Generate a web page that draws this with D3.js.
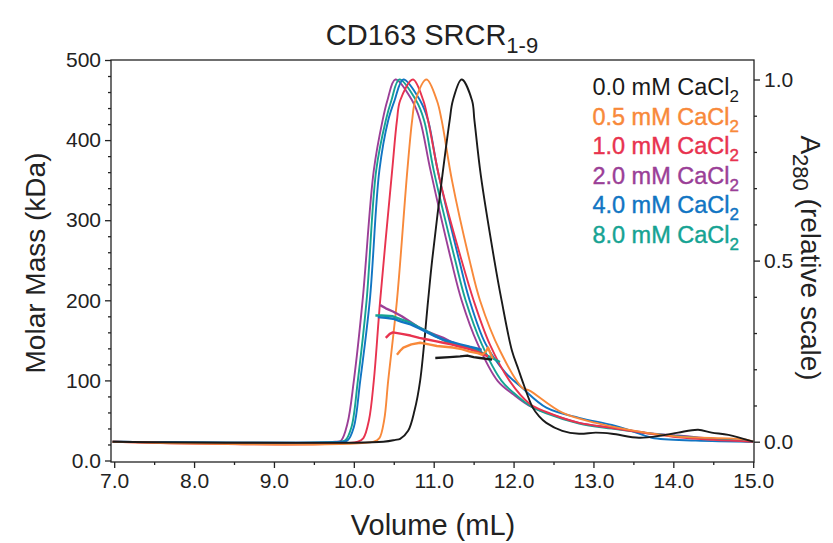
<!DOCTYPE html>
<html>
<head>
<meta charset="utf-8">
<script src="https://cdn.jsdelivr.net/npm/d3@7"></script>
<style>
body{margin:0;background:#fff}
text{font-family:"Liberation Sans",Arial,sans-serif}
</style>
</head>
<body>
<div class="chart"></div>
<script>
// A280 traces, [volume mL, relative absorbance]
const a280_0mM = [[6.98,0],[10.37,0],[10.52,0.005],[10.58,0.008],[10.68,0.03],[10.76,0.086],[10.83,0.168],[10.93,0.39],[10.98,0.5],[11.1,0.72],[11.2,0.887],[11.24,0.942],[11.35,1.0],[11.48,0.942],[11.51,0.887],[11.59,0.735],[11.76,0.5],[11.85,0.39],[11.98,0.251],[12.06,0.2],[12.11,0.168],[12.24,0.094],[12.32,0.07],[12.41,0.052],[12.61,0.03],[12.82,0.022],[13.03,0.025],[13.23,0.022],[13.57,0.011],[13.85,0.017],[14.06,0.025],[14.31,0.033],[14.48,0.025],[14.69,0.019],[15.0,0]]
const a280_05mM = [[6.98,0],[10.25,0],[10.32,0.01],[10.38,0.06],[10.43,0.168],[10.54,0.39],[10.67,0.749],[10.73,0.887],[10.77,0.942],[10.91,1.0],[11.04,0.942],[11.1,0.887],[11.23,0.72],[11.45,0.5],[11.58,0.39],[11.83,0.251],[12.11,0.149],[12.2,0.141],[12.61,0.08],[13.03,0.052],[13.65,0.025],[14.06,0.014],[14.9,0.006],[15.0,0]]
const a280_1mM = [[6.98,0],[10.05,0],[10.12,0.01],[10.19,0.06],[10.25,0.168],[10.33,0.39],[10.48,0.749],[10.54,0.887],[10.58,0.942],[10.74,1.0],[10.87,0.942],[10.93,0.887],[11.08,0.72],[11.35,0.5],[11.5,0.39],[11.7,0.27],[11.95,0.168],[12.2,0.105],[12.41,0.082],[12.82,0.052],[13.23,0.038],[13.65,0.024],[14.06,0.012],[14.5,0.005],[15.0,0]]
const a280_2mM = [[6.98,0],[9.77,0],[9.84,0.003],[9.92,0.05],[10.0,0.168],[10.11,0.39],[10.25,0.749],[10.36,0.887],[10.42,0.942],[10.52,1.0],[10.73,0.942],[10.83,0.887],[10.96,0.749],[11.22,0.5],[11.35,0.39],[11.55,0.27],[11.8,0.168],[12.0,0.13],[12.2,0.099],[12.41,0.08],[12.82,0.052],[13.23,0.039],[13.65,0.025],[14.06,0.017],[14.5,0.008],[15.0,0]]
const a280_4mM = [[6.98,0],[9.86,0],[9.92,0.003],[10.0,0.04],[10.08,0.168],[10.2,0.39],[10.32,0.749],[10.43,0.887],[10.51,0.942],[10.62,1.0],[10.83,0.942],[10.93,0.887],[11.05,0.749],[11.32,0.5],[11.45,0.39],[11.65,0.27],[11.9,0.19],[12.1,0.15],[12.41,0.094],[12.82,0.066],[13.23,0.046],[13.5,0.028],[13.73,0.011],[14.28,0.003],[15.0,0]]
const a280_8mM = [[6.98,0],[9.82,0],[9.89,0.003],[9.97,0.04],[10.05,0.168],[10.16,0.39],[10.28,0.749],[10.4,0.887],[10.47,0.942],[10.57,1.0],[10.78,0.942],[10.88,0.887],[11.0,0.749],[11.27,0.5],[11.4,0.39],[11.6,0.27],[11.85,0.168],[12.0,0.135],[12.2,0.1],[12.41,0.078],[12.82,0.05],[13.23,0.036],[13.65,0.024],[14.06,0.015],[14.5,0.007],[15.0,0]]

// molar mass traces, [volume mL, kDa]
const mass_0mM = [[11.02,128],[11.2,129],[11.33,130],[11.42,131],[11.5,129],[11.58,128],[11.73,126]]
const mass_05mM = [[10.54,132],[10.58,137],[10.62,141],[10.72,145],[10.83,147],[10.94,145],[11.04,143],[11.14,142],[11.24,141],[11.35,139],[11.45,136],[11.55,134],[11.61,132],[11.66,137],[11.68,141],[11.71,134],[11.74,127]]
const mass_1mM = [[10.4,153],[10.45,158],[10.49,160],[10.6,158],[10.71,156],[10.82,153],[10.92,151],[11.02,149],[11.12,147],[11.22,145],[11.33,142],[11.45,139],[11.54,136],[11.68,130]]
const mass_2mM = [[10.33,194],[10.4,190],[10.49,186],[10.6,180],[10.71,173],[10.8,167],[10.92,161],[11.02,157],[11.12,153],[11.22,148],[11.33,143],[11.42,142],[11.48,140],[11.54,138]]
const mass_4mM = [[10.3,179],[10.4,178],[10.49,177],[10.6,173],[10.71,170],[10.82,165],[10.92,160],[11.02,155],[11.12,151],[11.22,148],[11.33,145],[11.45,142],[11.54,140],[11.6,138]]
const mass_8mM = [[10.27,181],[10.35,181],[10.49,180],[10.6,176],[10.71,172],[10.82,166],[10.92,161],[11.05,154],[11.17,148],[11.3,144],[11.45,140],[11.54,138],[11.65,132],[11.75,127],[11.83,123]]

const concLabels = ["0.0","0.5","1.0","2.0","4.0","8.0"]
const colours = ["#1a1a1a","#f8893a","#e8334f","#9b3f97","#1175c3","#16a393"]
const xTicks = [7,8,9,10,11,12,13,14,15]
const massTicks = [0,100,200,300,400,500]
const absTicks = [0,0.5,1]

const absSeries = [a280_0mM,a280_05mM,a280_1mM,a280_2mM,a280_4mM,a280_8mM]
const massSeries = [mass_0mM,mass_05mM,mass_1mM,mass_2mM,mass_4mM,mass_8mM]

const svg = d3.select(".chart").append("svg").attr("width",833).attr("height",543)
const box = {left:111,right:754,top:60,bottom:462}

const x = d3.scaleLinear().domain([6.96,15.01]).range([box.left,box.right])
const yMass = d3.scaleLinear().domain([0,500]).range([460.5,60])
const yAbs = d3.scaleLinear().domain([0,1]).range([441.7,79.5])

// draw order so black ends on top
const order = [3,5,4,2,1,0]

const absLine = d3.line().x(d=>x(d[0])).y(d=>yAbs(d[1])).curve(d3.curveCatmullRom.alpha(0.5))
const massLine = d3.line().x(d=>x(d[0])).y(d=>yMass(d[1]))

const plot = svg.append("g")
order.forEach(i => {
  plot.append("path").attr("d",absLine(absSeries[i])).attr("fill","none")
      .attr("stroke",colours[i]).attr("stroke-width",1.9).attr("stroke-linejoin","round")
})
order.forEach(i => {
  plot.append("path").attr("d",massLine(massSeries[i])).attr("fill","none")
      .attr("stroke",colours[i]).attr("stroke-width",2.4).attr("stroke-linejoin","round")
})

// frame
svg.append("rect").attr("x",box.left).attr("y",box.top).attr("width",box.right-box.left)
   .attr("height",box.bottom-box.top).attr("fill","none").attr("stroke","#222").attr("stroke-width",1.3)

function styleAxis(g){
  g.select(".domain").remove()
  g.selectAll(".tick line").attr("stroke","#222").attr("stroke-width",1.3)
  g.selectAll("text").attr("font-size",21).attr("fill","#222").attr("font-family","Liberation Sans, Arial, sans-serif")
}

// bottom axis
svg.append("g").attr("transform",`translate(0,${box.bottom})`)
   .call(d3.axisBottom(x).tickValues(d3.range(7.5,15,1)).tickSize(3).tickFormat("")).call(styleAxis)
svg.append("g").attr("transform",`translate(0,${box.bottom})`)
   .call(d3.axisBottom(x).tickValues(xTicks).tickSize(6).tickPadding(5).tickFormat(d3.format(".1f"))).call(styleAxis)

// left axis
svg.append("g").attr("transform",`translate(${box.left},0)`)
   .call(d3.axisLeft(yMass).tickValues(d3.range(20,500,20).filter(v=>v%100)).tickSize(3).tickFormat("")).call(styleAxis)
svg.append("g").attr("transform",`translate(${box.left},0)`)
   .call(d3.axisLeft(yMass).tickValues(massTicks).tickSize(6).tickPadding(4).tickFormat(d=>d===0?"0.0":d)).call(styleAxis)

// right axis
svg.append("g").attr("transform",`translate(${box.right},0)`)
   .call(d3.axisRight(yAbs).tickValues([0.1,0.2,0.3,0.4,0.6,0.7,0.8,0.9]).tickSize(3).tickFormat("")).call(styleAxis)
svg.append("g").attr("transform",`translate(${box.right},0)`)
   .call(d3.axisRight(yAbs).tickValues(absTicks).tickSize(6).tickPadding(4).tickFormat(d3.format(".1f"))).call(styleAxis)

// title
const title = svg.append("text").attr("x",432).attr("y",45).attr("text-anchor","middle")
   .attr("font-size",29).attr("fill","#222")
title.append("tspan").text("CD163 SRCR")
title.append("tspan").attr("dy",8).attr("font-size",22).text("1-9")

// axis titles
svg.append("text").attr("x",433).attr("y",535).attr("text-anchor","middle")
   .attr("font-size",29).attr("fill","#222").text("Volume (mL)")
svg.append("text").attr("transform","translate(45,263) rotate(-90)").attr("text-anchor","middle")
   .attr("font-size",28).attr("fill","#222").text("Molar Mass (kDa)")
const rTitle = svg.append("text").attr("transform","translate(801,258) rotate(90)").attr("text-anchor","middle")
   .attr("font-size",28).attr("fill","#222")
rTitle.append("tspan").text("A")
rTitle.append("tspan").attr("dy",8).attr("font-size",22).text("280")
rTitle.append("tspan").attr("dy",-8).text(" (relative scale)")

// legend
const legend = svg.append("g")
concLabels.forEach((c,i) => {
  const t = legend.append("text").attr("x",739).attr("y",95+i*29.5).attr("text-anchor","end")
     .attr("font-size",23.5).attr("fill",colours[i])
     .attr("stroke",i===0?"none":colours[i]).attr("stroke-width",0.4)
  t.append("tspan").text(c+" mM CaCl")
  t.append("tspan").attr("dy",7).attr("font-size",17).text("2")
})
</script>
</body>
</html>
